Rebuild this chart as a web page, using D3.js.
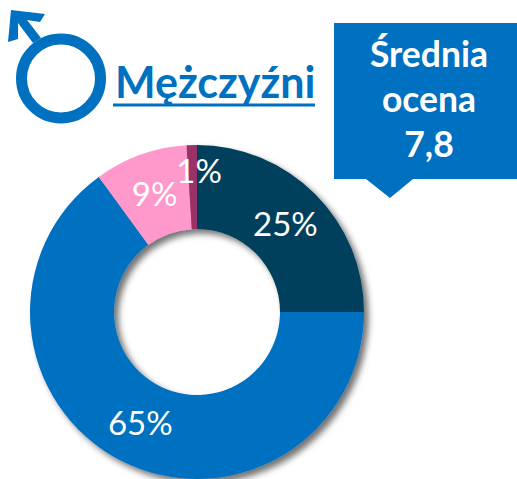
<!DOCTYPE html>
<html><head><meta charset="utf-8">
<style>html,body{margin:0;padding:0;background:#fff;overflow:hidden}svg{display:block}text{font-family:Lato,"Open Sans",sans-serif}</style>
<script src="https://cdn.jsdelivr.net/npm/d3@7"></script>
</head><body>
<script>
const categories = ["Dark", "Blue", "Pink", "Magenta"];
const values = [25, 65, 9, 1];
const colors = ["#03415C", "#0070C0", "#FF99CC", "#993366"];
const titleText = "Mężczyźni";
const calloutLines = ["Średnia", "ocena", "7,8"];

const W = 517, H = 479, blue = "#0070C0";
const svg = d3.select("body").append("svg").attr("width", W).attr("height", H);

const defs = svg.append("defs");
const f = defs.append("filter").attr("id", "sh").attr("x", "-10%").attr("y", "-10%").attr("width", "125%").attr("height", "125%");
f.append("feDropShadow").attr("dx", 4.5).attr("dy", 4.5).attr("stdDeviation", 3.4)
  .attr("flood-color", "#000").attr("flood-opacity", 0.55);

const cx = 197, cy = 312, R = 167, r = 83;
const pie = d3.pie().sort(null).value(d => d)(values);
const arc = d3.arc().innerRadius(r).outerRadius(R);
const g = svg.append("g").attr("transform", `translate(${cx},${cy})`);
const ring = g.append("g").attr("filter", "url(#sh)");
ring.selectAll("path").data(pie).join("path")
  .attr("d", arc).attr("fill", (d, i) => colors[i]);

const labelShift = { 3: [6, -16] };
g.selectAll("text").data(pie).join("text")
  .attr("transform", (d, i) => {
    const [x, y] = arc.centroid(d), s = labelShift[i] || [0, 0];
    return `translate(${x + s[0]},${y + s[1]})`;
  })
  .attr("text-anchor", "middle").attr("dy", "0.36em")
  .attr("font-size", 33).attr("fill", "#fff")
  .text(d => d.value + "%");

// male symbol
const m = svg.append("g");
m.append("circle").attr("cx", 61).attr("cy", 78.5).attr("r", 39.5)
  .attr("fill", "none").attr("stroke", blue).attr("stroke-width", 11);
m.append("path").attr("fill", blue)
  .attr("d", d3.line()([[11,10],[45,14],[40,22],[27,20],[41,38],[33,43],[18,23],[18,39],[8,42]]) + "Z");

// title
svg.append("text").attr("x", 115).attr("y", 98).attr("font-size", 43).attr("font-weight", 700)
  .attr("fill", blue).text(titleText);
svg.append("rect").attr("x", 113).attr("y", 103.5).attr("width", 202).attr("height", 3).attr("fill", blue);

// callout
svg.append("path").attr("fill", blue)
  .attr("d", d3.line()([[334,23],[517,23],[517,179],[413,179],[390,198],[366,179],[334,179]]) + "Z");
svg.append("g").selectAll("text").data(calloutLines).join("text")
  .attr("x", 429).attr("y", (d, i) => 67 + i * 45)
  .attr("text-anchor", "middle").attr("font-size", 35.5).attr("font-weight", 700)
  .attr("fill", "#fff").text(d => d);
</script>
</body></html>
